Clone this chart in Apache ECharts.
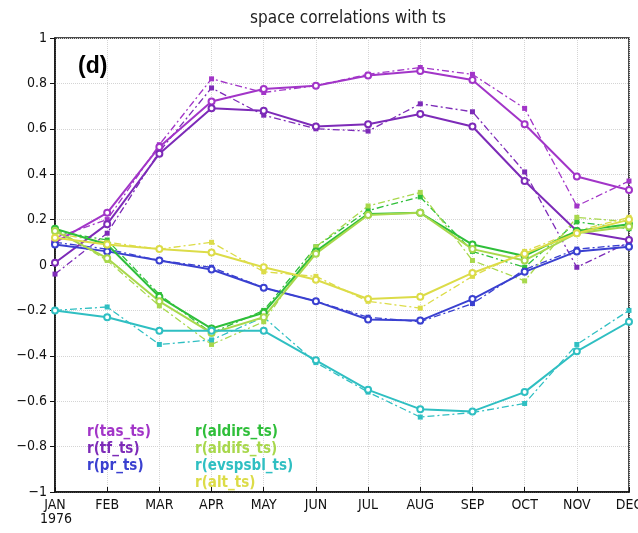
<!DOCTYPE html>
<html>
<head>
<meta charset="utf-8">
<script src="https://cdn.jsdelivr.net/npm/echarts@6/dist/echarts.min.js"></script>
<style>html,body{margin:0;padding:0;background:#fff}#c{width:638px;height:533px}</style>
</head>
<body>
<div id="c"></div>
<script>
const months = ['JAN','FEB','MAR','APR','MAY','JUN','JUL','AUG','SEP','OCT','NOV','DEC'];
const yTicks = [-1,-0.8,-0.6,-0.4,-0.2,0,0.2,0.4,0.6,0.8,1];

const tasSolid     = [0.10,0.23,0.52,0.72,0.775,0.79,0.835,0.855,0.815,0.62,0.39,0.33];
const tasDash      = [0.12,0.20,0.53,0.82,0.76,0.79,0.84,0.87,0.84,0.69,0.26,0.37];
const tfSolid      = [0.01,0.18,0.49,0.69,0.68,0.61,0.62,0.665,0.61,0.37,0.15,0.11];
const tfDash       = [-0.04,0.14,0.50,0.78,0.66,0.60,0.59,0.71,0.675,0.41,-0.01,0.10];
const prSolid      = [0.09,0.06,0.02,-0.02,-0.10,-0.16,-0.24,-0.245,-0.15,-0.03,0.06,0.08];
const prDash       = [0.10,0.07,0.02,-0.01,-0.10,-0.16,-0.23,-0.25,-0.17,-0.02,0.07,0.09];
const aldirsSolid  = [0.16,0.09,-0.14,-0.28,-0.21,0.06,0.225,0.23,0.09,0.04,0.15,0.18];
const aldirsDash   = [0.15,0.11,-0.13,-0.30,-0.20,0.08,0.24,0.30,0.06,-0.01,0.19,0.16];
const aldifsSolid  = [0.15,0.03,-0.16,-0.30,-0.23,0.05,0.22,0.23,0.07,0.02,0.14,0.17];
const aldifsDash   = [0.16,0.02,-0.18,-0.35,-0.25,0.08,0.26,0.32,0.02,-0.07,0.21,0.19];
const evspsblSolid = [-0.20,-0.23,-0.29,-0.29,-0.29,-0.42,-0.55,-0.635,-0.645,-0.56,-0.38,-0.25];
const evspsblDash  = [-0.20,-0.185,-0.35,-0.33,-0.23,-0.43,-0.56,-0.67,-0.65,-0.61,-0.35,-0.20];
const altSolid     = [0.12,0.09,0.07,0.055,-0.01,-0.065,-0.15,-0.14,-0.035,0.05,0.14,0.20];
const altDash      = [0.14,0.10,0.07,0.10,-0.03,-0.05,-0.16,-0.19,-0.05,0.06,0.15,0.21];

const names = ['r(tas_ts)','r(tf_ts)','r(pr_ts)','r(aldirs_ts)','r(aldifs_ts)','r(evspsbl_ts)','r(alt_ts)'];
const colors = ['#a235c8','#7d2bb8','#3a40d0','#2fbf3a','#a8d84c','#2fbfc2','#dcdc48'];
const solids = [tasSolid,tfSolid,prSolid,aldirsSolid,aldifsSolid,evspsblSolid,altSolid];
const dashes = [tasDash,tfDash,prDash,aldirsDash,aldifsDash,evspsblDash,altDash];

const FONT = '"Liberation Sans Narrow","DejaVu Sans Condensed","Liberation Sans",sans-serif';

const series = [];
names.forEach((n,i)=>{
  series.push({
    name:n, type:'line', data:dashes[i], symbol:'rect', symbolSize:5,
    lineStyle:{color:colors[i], width:1.3, type:[7,3,2,3]},
    itemStyle:{color:colors[i]}, z:2, animation:false
  });
  series.push({
    name:n, type:'line', data:solids[i], symbol:'emptyCircle', symbolSize:6,
    lineStyle:{color:colors[i], width:2},
    itemStyle:{color:colors[i], borderWidth:1.5}, z:3, animation:false
  });
});

const legendItem = (i)=>({name:names[i], textStyle:{color:colors[i]}});
const legendBase = {orient:'vertical', icon:'none', itemWidth:0, itemHeight:12, itemGap:2,
  selectedMode:false, textStyle:{fontFamily:FONT, fontSize:15, fontWeight:'bold', lineHeight:14, padding:[0,0,0,-5]}};

const chart = echarts.init(document.getElementById('c'));
chart.setOption({
  backgroundColor:'#fff',
  animation:false,
  title:{text:'space correlations with ts', left:343, textAlign:'center', top:5,
    textStyle:{fontFamily:FONT, fontSize:17, fontWeight:'normal', color:'#222'}},
  grid:{left:55, right:9, top:38, bottom:41, show:true, borderColor:'#111', borderWidth:1.5,
    containLabel:false, outerBoundsMode:'none'},
  legend:[
    Object.assign({}, legendBase, {left:82, top:420, data:[0,1,2].map(legendItem)}),
    Object.assign({}, legendBase, {left:190, top:420, data:[3,4,5,6].map(legendItem)})
  ],
  xAxis:{type:'category', data:months, boundaryGap:false,
    axisLine:{onZero:false, lineStyle:{color:'#111', width:1.5}},
    axisTick:{inside:true, length:5, lineStyle:{color:'#111'}},
    axisLabel:{color:'#111', fontFamily:FONT, fontSize:14, margin:6, showMaxLabel:true},
    splitLine:{show:true, lineStyle:{color:'#d4d4d4', type:'dotted'}}},
  yAxis:{type:'value', min:-1, max:1, interval:0.2,
    axisLine:{show:true, lineStyle:{color:'#111', width:1.5}},
    axisTick:{show:true, length:5, lineStyle:{color:'#111'}},
    axisLabel:{color:'#111', fontFamily:FONT, fontSize:14, margin:8,
      formatter:(v)=>{const t=yTicks.reduce((a,b)=>Math.abs(b-v)<Math.abs(a-v)?b:a); return String(t).replace('-','\u2212');}},
    splitLine:{show:true, lineStyle:{color:'#d4d4d4', type:'dotted'}}},
  graphic:[
    {type:'text', left:78, top:55, style:{text:'(d)', font:'bold 23px "Liberation Sans",Arial,sans-serif', fill:'#000'}},
    {type:'text', left:40, top:512, style:{text:'1976', font:'14px '+FONT, fill:'#111'}}
  ],
  series:series
});
</script>
</body>
</html>
